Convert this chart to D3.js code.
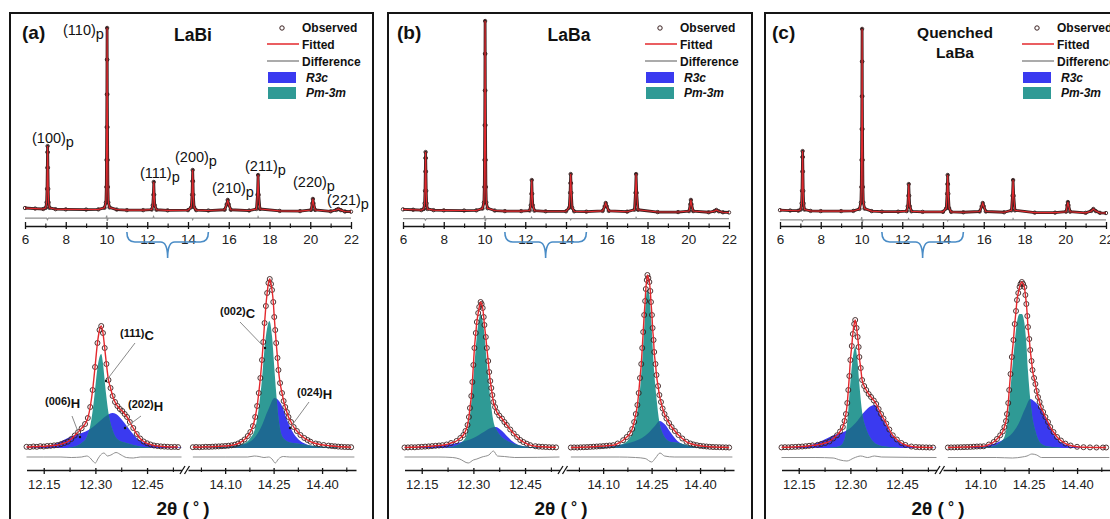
<!DOCTYPE html>
<html><head><meta charset="utf-8">
<script src="https://cdn.jsdelivr.net/npm/d3@7"></script>
<style>body{margin:0;background:#fff;overflow:hidden} text{font-family:Arial,"Liberation Sans",sans-serif}</style>
</head><body><svg id="c" width="1110" height="519"></svg>
<script>
// ---------------- DATA ----------------
const panelLetters = ["(a)", "(b)", "(c)"];
const panelTitles = [["LaBi"], ["LaBa"], ["Quenched", "LaBa"]];
const legendLabels = ["Observed", "Fitted", "Difference", "R3c", "Pm-3m"];
const overviewTicks = [6, 8, 10, 12, 14, 16, 18, 20, 22];
const overviewMinor = [7, 9, 11, 13, 15, 17, 19, 21];
const insetLeftTicks = [12.15, 12.30, 12.45];
const insetLeftMinor = [12.225, 12.375, 12.525];
const insetRightTicks = [14.10, 14.25, 14.40];
const insetRightMinor = [14.025, 14.175, 14.325, 14.475];
const braceRange = [11.0, 15.0];
const hklLabels = ["(100)", "(110)", "(111)", "(200)", "(210)", "(211)", "(220)", "(221)"];
const insetLabels = ["(006)", "(111)", "(202)", "(002)", "(024)"];
const insetLabelSubs = ["H", "C", "H", "C", "H"];

// overview patterns [2theta, intensity]
const overviewA = [[6.0,3.1],[6.5,2.8],[6.9,2.6],[7.02,3.2],[7.06,6],[7.08,13],[7.095,24],[7.105,32],[7.11,35.2],[7.115,32],[7.125,24],[7.14,13],[7.16,6],[7.2,3.2],[7.5,2.5],[8.0,2.4],[9.0,2.3],[9.6,2.4],[9.9,3.2],[9.97,6],[9.99,14],[10.0,28],[10.01,45],[10.018,62],[10.024,80],[10.03,96.4],[10.036,80],[10.042,62],[10.05,45],[10.06,28],[10.07,14],[10.09,6],[10.15,3.4],[10.5,2.3],[11.0,2.0],[11.8,2.0],[12.22,2.3],[12.27,4.5],[12.3,10],[12.32,16.6],[12.34,10],[12.37,4.5],[12.45,2.2],[13.0,1.9],[14.0,2.0],[14.16,3.5],[14.2,10],[14.215,17],[14.23,22.8],[14.245,17],[14.26,10],[14.3,3.5],[14.4,2.0],[15.0,1.8],[15.8,2.2],[15.9,5],[15.95,7.3],[16.0,5],[16.1,2.2],[17.0,1.8],[17.36,2.6],[17.41,10],[17.44,20.2],[17.47,10],[17.53,2.6],[18.5,1.6],[19.5,1.5],[20.04,2.1],[20.1,5.5],[20.13,7.8],[20.16,5.5],[20.24,2.1],[21.0,1.4],[21.28,2.1],[21.38,2.6],[21.5,2.0],[21.7,1.3],[22.0,1.2]];
const overviewB = [[6.0,2.4],[6.5,2.2],[6.9,2.0],[7.02,2.6],[7.06,5.5],[7.08,12],[7.095,22],[7.105,29],[7.11,32.1],[7.115,29],[7.125,22],[7.14,12],[7.16,5.5],[7.2,2.6],[7.5,2.0],[8.0,1.9],[9.0,1.8],[9.6,1.9],[9.9,2.8],[9.97,6],[9.99,14],[10.0,28],[10.01,46],[10.018,64],[10.024,83],[10.03,100],[10.036,83],[10.042,64],[10.05,46],[10.06,28],[10.07,14],[10.09,6],[10.15,3],[10.5,1.8],[11.0,1.5],[11.8,1.5],[12.22,1.8],[12.27,4.5],[12.3,10.5],[12.32,17.6],[12.34,10.5],[12.37,4.5],[12.45,1.7],[13.0,1.4],[14.0,1.4],[14.16,3.3],[14.2,11],[14.215,16],[14.23,20.7],[14.245,16],[14.26,11],[14.3,3.3],[14.4,1.4],[15.0,1.2],[15.8,1.6],[15.9,4],[15.95,5.7],[16.0,4],[16.1,1.6],[17.0,1.2],[17.36,2.2],[17.41,11],[17.44,20.7],[17.47,11],[17.53,2.2],[18.5,1.0],[19.5,1.0],[20.04,1.5],[20.1,5],[20.13,7.3],[20.16,5],[20.24,1.5],[21.0,0.9],[21.28,1.5],[21.38,2.1],[21.5,1.4],[21.7,0.9],[22.0,0.8]];
const overviewC = [[6.0,2.0],[6.5,1.8],[6.9,1.7],[7.02,2.3],[7.06,5.5],[7.08,12],[7.095,22],[7.105,29.5],[7.11,32.6],[7.115,29.5],[7.125,22],[7.14,12],[7.16,5.5],[7.2,2.3],[7.5,1.6],[8.0,1.5],[9.0,1.5],[9.6,1.6],[9.9,2.6],[9.97,6],[9.99,14],[10.0,28],[10.01,44],[10.018,61],[10.024,79],[10.03,95.9],[10.036,79],[10.042,61],[10.05,44],[10.06,28],[10.07,14],[10.09,6],[10.15,2.8],[10.5,1.5],[11.0,1.2],[11.8,1.2],[12.22,1.5],[12.27,4],[12.3,9.5],[12.32,15.5],[12.34,9.5],[12.37,4],[12.45,1.4],[13.0,1.1],[14.0,1.1],[14.16,3],[14.2,10.5],[14.215,15.5],[14.23,20.2],[14.245,15.5],[14.26,10.5],[14.3,3],[14.4,1.1],[15.0,0.9],[15.8,1.3],[15.9,4],[15.95,5.7],[16.0,4],[16.1,1.3],[17.0,0.9],[17.36,1.9],[17.41,9.5],[17.44,17.6],[17.47,9.5],[17.53,1.9],[18.5,0.7],[19.5,0.7],[20.04,1.2],[20.1,4.5],[20.13,6.2],[20.16,4.5],[20.24,1.2],[21.0,0.6],[21.28,1.6],[21.38,2.6],[21.5,1.5],[21.7,0.6],[22.0,0.5]];
const diffOverviewA = [[6,-2.1],[7.06,-2.1],[7.1,-3.0],[7.15,-2.1],[9.98,-2.1],[10.01,-0.8],[10.04,-3.6],[10.08,-2.1],[12.28,-2.1],[12.31,-1.3],[12.34,-2.1],[14.2,-2.1],[14.23,-2.9],[14.26,-2.1],[17.42,-2.1],[17.44,-1.4],[17.47,-2.1],[22,-2.1]];
const diffOverviewB = [[6,-2.4],[7.06,-2.4],[7.1,-3.2],[7.15,-2.4],[9.98,-2.4],[10.01,-1.0],[10.04,-3.8],[10.08,-2.4],[12.28,-2.4],[12.31,-1.7],[12.34,-2.4],[14.2,-2.4],[14.23,-3.0],[14.26,-2.4],[17.42,-2.4],[17.44,-1.8],[17.47,-2.4],[22,-2.4]];
const diffOverviewC = [[6,-3.0],[7.06,-3.0],[7.1,-3.8],[7.15,-3.0],[9.98,-3.0],[10.01,-1.6],[10.04,-4.4],[10.08,-3.0],[12.28,-3.0],[12.31,-2.4],[12.34,-3.0],[14.2,-3.0],[14.23,-3.6],[14.26,-3.0],[17.42,-3.0],[17.44,-2.4],[17.47,-3.0],[22,-3.0]];

// inset (zoomed) data [2theta, intensity]
const obsLeftA = [[12.10,1.2],[12.11,1.0],[12.12,1.5],[12.13,1.2],[12.14,1.8],[12.15,1.5],[12.16,2.0],[12.17,2.2],[12.18,2.6],[12.19,3.0],[12.20,3.8],[12.21,5.0],[12.22,6.3],[12.23,9],[12.24,12.5],[12.25,16],[12.26,19.7],[12.27,24],[12.278,30],[12.285,41],[12.292,58],[12.299,81],[12.306,105],[12.312,118],[12.317,122],[12.322,115],[12.327,100],[12.332,84],[12.338,68],[12.344,60],[12.350,52],[12.357,46],[12.364,42],[12.371,39],[12.378,37],[12.385,34],[12.392,31],[12.40,26],[12.41,20],[12.42,14],[12.43,9.5],[12.44,6.5],[12.45,4.7],[12.46,3.5],[12.47,2.5],[12.48,2.0],[12.49,1.6],[12.50,1.4],[12.51,1.2],[12.52,1.0],[12.53,1.1],[12.54,0.9]];
const tealLeftA = [[12.22,0.3],[12.24,1.5],[12.26,5],[12.275,11],[12.285,22],[12.292,37],[12.299,58],[12.306,80],[12.312,91],[12.317,94],[12.322,85],[12.326,71],[12.331,54],[12.338,35],[12.348,20],[12.357,12],[12.367,8],[12.38,6],[12.395,4.5],[12.41,3],[12.43,1.5],[12.46,0.5]];
const blueLeftA = [[12.10,0.5],[12.15,1.5],[12.19,5],[12.22,10],[12.24,13],[12.26,15],[12.28,18],[12.30,23],[12.32,29],[12.34,34],[12.35,35],[12.36,34],[12.38,27],[12.40,18],[12.42,10],[12.44,5.5],[12.47,2.5],[12.52,1],[12.55,0.5]];
const diffLeftA = [[12.10,-9],[12.15,-9],[12.20,-9],[12.23,-9.5],[12.26,-9],[12.275,-8],[12.285,-10],[12.295,-14],[12.30,-15],[12.307,-11],[12.315,-7],[12.325,-5],[12.335,-8],[12.345,-7],[12.36,-4.5],[12.375,-7],[12.39,-9.5],[12.41,-10],[12.43,-9],[12.47,-9],[12.55,-9]];
const obsRightA = [[14.00,0.8],[14.01,1.0],[14.02,0.8],[14.03,1.0],[14.04,1.2],[14.05,1.1],[14.06,1.3],[14.07,1.5],[14.08,1.6],[14.09,1.8],[14.10,2.0],[14.11,2.3],[14.12,2.7],[14.13,3.3],[14.14,4.5],[14.15,6.2],[14.16,8.5],[14.17,12],[14.178,16],[14.186,22],[14.193,31],[14.199,42],[14.204,55],[14.209,70],[14.214,88],[14.218,106],[14.222,125],[14.226,142],[14.230,155],[14.234,165],[14.238,169],[14.242,164],[14.245,158],[14.249,146],[14.252,131],[14.255,118],[14.258,105],[14.262,90],[14.265,78],[14.270,65],[14.276,55],[14.281,47],[14.286,41],[14.291,36],[14.296,31],[14.304,26],[14.312,21],[14.322,17],[14.333,13],[14.345,10],[14.355,8],[14.364,6.3],[14.38,4.5],[14.39,3.8],[14.405,3.0],[14.42,2.4],[14.43,2.0],[14.44,1.7],[14.45,1.4],[14.46,1.2],[14.47,1.0],[14.48,0.9],[14.49,0.8]];
const tealRightA = [[14.05,0.3],[14.10,1],[14.13,2.5],[14.157,4.5],[14.178,10],[14.193,20],[14.204,40],[14.214,69],[14.222,100],[14.230,120],[14.237,127],[14.245,112],[14.252,81],[14.258,55],[14.265,30],[14.276,12],[14.286,8],[14.296,6],[14.312,5],[14.333,4],[14.364,2.5],[14.40,1.5],[14.45,0.5]];
const blueRightA = [[14.0,0.2],[14.06,0.6],[14.11,1.5],[14.15,3.3],[14.17,5],[14.19,10],[14.21,20],[14.233,38],[14.253,50],[14.273,44],[14.293,27],[14.313,14],[14.333,7],[14.353,3.5],[14.39,1.2],[14.45,0.3]];
const diffRightA = [[14.0,-9],[14.1,-9],[14.17,-9],[14.19,-8],[14.205,-8.5],[14.22,-9.5],[14.235,-9],[14.245,-11],[14.255,-15],[14.265,-11],[14.28,-8.5],[14.30,-9],[14.5,-9]];

const obsLeftB = [[12.10,0.5],[12.11,0.6],[12.12,0.8],[12.13,0.7],[12.14,1.0],[12.15,1.2],[12.16,1.4],[12.17,1.6],[12.18,1.9],[12.19,2.2],[12.20,2.5],[12.21,2.8],[12.222,3.5],[12.235,5],[12.251,7],[12.262,10],[12.271,13],[12.277,17],[12.283,23],[12.287,31],[12.290,40],[12.294,52],[12.297,66],[12.300,83],[12.303,100],[12.307,115],[12.310,126],[12.314,135],[12.317,141],[12.321,146],[12.324,144],[12.327,140],[12.330,131],[12.332,123],[12.336,111],[12.339,100],[12.343,87],[12.346,76],[12.349,67],[12.352,60],[12.355,53],[12.358,46],[12.363,41],[12.368,36],[12.375,32.5],[12.383,29.5],[12.39,26],[12.397,23],[12.407,18.5],[12.417,14.5],[12.427,11],[12.436,8],[12.445,6],[12.455,4.3],[12.465,2.8],[12.48,1.8],[12.49,1.4],[12.50,1.2],[12.51,1.0],[12.52,0.8],[12.53,0.7],[12.54,0.6]];
const tealLeftB = [[12.22,0.3],[12.25,2.5],[12.27,7],[12.28,13],[12.29,32],[12.30,70],[12.31,112],[12.321,134],[12.33,120],[12.339,86],[12.349,50],[12.358,27],[12.369,17],[12.379,12],[12.399,7],[12.419,4],[12.45,1.5],[12.5,0.5]];
const blueLeftB = [[12.10,0.3],[12.15,1],[12.22,3],[12.26,5.5],[12.30,10],[12.33,16],[12.35,20],[12.365,21],[12.38,18],[12.40,11],[12.42,5],[12.45,1.5],[12.50,0.3]];
const diffLeftB = [[12.10,-9],[12.20,-9],[12.24,-9.5],[12.26,-11],[12.285,-15],[12.30,-12],[12.31,-11],[12.325,-9],[12.345,-7],[12.358,-3],[12.37,-8],[12.39,-8.5],[12.42,-9.5],[12.55,-9]];
const obsRightB = [[14.00,0.5],[14.01,0.6],[14.02,0.5],[14.03,0.7],[14.04,0.8],[14.05,0.9],[14.06,1.1],[14.07,1.3],[14.08,1.5],[14.09,1.7],[14.10,1.9],[14.11,2.2],[14.12,2.5],[14.131,2.8],[14.145,4.5],[14.162,7.8],[14.173,11],[14.183,14.5],[14.19,19],[14.196,26],[14.201,34],[14.206,43],[14.210,55],[14.214,70],[14.218,84],[14.221,100],[14.224,116],[14.227,133],[14.230,147],[14.232,159],[14.235,168],[14.237,173],[14.240,170],[14.243,166],[14.246,157],[14.248,146],[14.251,133],[14.253,120],[14.256,108],[14.258,96],[14.262,84],[14.265,73],[14.270,62],[14.274,53],[14.279,46],[14.284,39.5],[14.29,34],[14.296,29.5],[14.304,25],[14.312,21],[14.322,17],[14.333,13],[14.345,9.5],[14.358,6.2],[14.37,4.5],[14.38,3.5],[14.39,2.8],[14.40,2.2],[14.41,1.8],[14.42,1.5],[14.43,1.2],[14.44,1.0],[14.45,0.9],[14.46,0.8],[14.47,0.7],[14.48,0.6],[14.49,0.5]];
const tealRightB = [[14.05,0.3],[14.10,0.8],[14.13,1.5],[14.16,4],[14.18,9],[14.195,19],[14.205,34],[14.215,62],[14.222,92],[14.228,125],[14.236,158],[14.243,153],[14.248,132],[14.258,76],[14.265,50],[14.274,26],[14.285,14],[14.296,8.5],[14.31,6],[14.335,5],[14.36,3],[14.40,1],[14.45,0.3]];
const blueRightB = [[14.05,0.3],[14.10,1],[14.15,3],[14.19,6],[14.22,10],[14.24,15],[14.26,22],[14.275,27],[14.29,24],[14.31,15],[14.33,7],[14.36,2.5],[14.40,0.8],[14.45,0.2]];
const diffRightB = [[14.0,-9],[14.15,-9],[14.2,-9.5],[14.23,-10.5],[14.25,-14],[14.262,-10],[14.276,-5],[14.29,-8],[14.32,-9],[14.5,-9]];

const obsLeftC = [[12.10,0.6],[12.11,0.8],[12.12,0.7],[12.13,1.0],[12.14,1.1],[12.15,1.3],[12.16,1.5],[12.17,1.8],[12.18,2.2],[12.19,2.6],[12.205,3.2],[12.215,4],[12.227,5],[12.239,6.5],[12.25,9.5],[12.261,12.7],[12.27,16.5],[12.278,21],[12.283,27],[12.287,34],[12.291,45],[12.294,58],[12.297,72],[12.300,88],[12.304,102],[12.307,114],[12.311,124],[12.314,128],[12.318,120],[12.321,111],[12.324,101],[12.326,91],[12.330,80],[12.334,68],[12.340,62],[12.346,58],[12.353,54],[12.360,51],[12.368,47.5],[12.375,44],[12.382,39],[12.389,34],[12.396,29.5],[12.404,24.5],[12.413,18.5],[12.423,12.7],[12.435,8.5],[12.448,5],[12.46,3],[12.477,1.5],[12.49,1.0],[12.50,0.8],[12.51,0.7],[12.52,0.6],[12.53,0.5],[12.54,0.5]];
const tealLeftC = [[12.24,0.3],[12.27,2],[12.28,6],[12.287,15],[12.294,38],[12.30,66],[12.307,90],[12.314,101],[12.321,86],[12.326,64],[12.334,36],[12.346,19],[12.36,9],[12.375,4],[12.40,1.5],[12.44,0.3]];
const blueLeftC = [[12.12,0.5],[12.17,2],[12.21,6],[12.24,11],[12.26,14],[12.28,16],[12.30,20],[12.32,27],[12.34,36],[12.36,42],[12.37,43],[12.39,31],[12.405,22],[12.42,13],[12.445,5],[12.47,2],[12.50,0.7],[12.55,0.3]];
const diffLeftC = [[12.10,-9.5],[12.20,-9.5],[12.25,-10],[12.27,-12],[12.29,-13],[12.31,-10],[12.33,-8],[12.35,-9.5],[12.37,-8],[12.39,-9],[12.55,-9.5]];
const obsRightC = [[14.00,0.5],[14.01,0.6],[14.02,0.6],[14.03,0.7],[14.04,0.8],[14.05,0.9],[14.06,1.0],[14.07,1.1],[14.08,1.3],[14.09,1.5],[14.10,1.6],[14.111,1.7],[14.127,3.5],[14.142,6],[14.152,9],[14.162,12.7],[14.17,16.5],[14.175,21],[14.18,27],[14.183,34],[14.187,45],[14.19,58],[14.194,74],[14.198,91],[14.203,108],[14.207,124],[14.211,137],[14.214,148],[14.218,155],[14.222,161],[14.225,164],[14.229,166],[14.233,164],[14.237,161],[14.240,153],[14.243,144],[14.246,132],[14.248,121],[14.252,109],[14.255,98],[14.259,87],[14.262,78],[14.267,70],[14.271,64],[14.275,57],[14.279,51],[14.284,46],[14.288,41],[14.295,36],[14.302,31],[14.31,26],[14.317,21],[14.327,16],[14.338,11],[14.35,7.5],[14.364,4.4],[14.38,2.5],[14.40,1.2],[14.42,0.8],[14.44,0.6],[14.46,0.5],[14.48,0.5],[14.49,0.5]];
const tealRightC = [[14.10,0.3],[14.142,2],[14.162,5.5],[14.175,11],[14.183,23],[14.19,45],[14.198,75],[14.207,105],[14.214,126],[14.222,134],[14.229,134],[14.237,125],[14.243,104],[14.248,77],[14.255,49],[14.262,30],[14.271,17],[14.279,9],[14.29,4],[14.31,1.5],[14.35,0.3]];
const blueRightC = [[14.05,0.3],[14.10,1.5],[14.14,4],[14.17,8],[14.20,15],[14.22,25],[14.24,40],[14.255,49],[14.27,46],[14.286,40],[14.307,27],[14.327,14],[14.345,7],[14.36,4],[14.39,1],[14.45,0.2]];
const diffRightC = [[14.0,-9.5],[14.15,-9.5],[14.2,-10],[14.23,-9],[14.245,-8],[14.26,-6],[14.275,-7],[14.29,-9.5],[14.5,-9.5]];

// ---------------- DRAWING ----------------
const F = 'Arial, "Liberation Sans", sans-serif';
const COL = {red:"#e3282d", obs:"#3a2020", diff:"#8f8f8f", blue:"#3a3af0", teal:"#2f9a95", overlap:"#1e6a92", brace:"#4a8cc6", frame:"#151515"};
const svg = d3.select("#c");

const xO = d3.scaleLinear().domain([6, 22]).range([15, 341]);
const yO = d3.scaleLinear().domain([0, 100]).range([214, 21]);
const xL = d3.scaleLinear().domain([12.10, 12.55]).range([16.5, 171.5]);
const xR = d3.scaleLinear().domain([13.985, 14.505]).range([178, 346]);
const yI = d3.scaleLinear().domain([0, 180]).range([448, 268]);

const panels = [
  {left:10, width:363, letterX:12, titleX:183, titleY:[41],
   overview:overviewA, diff:diffOverviewA,
   L:{obs:obsLeftA, teal:tealLeftA, blue:blueLeftA, diff:diffLeftA},
   R:{obs:obsRightA, teal:tealRightA, blue:blueRightA, diff:diffRightA}},
  {left:388, width:364, letterX:9, titleX:181, titleY:[41],
   overview:overviewB, diff:diffOverviewB,
   L:{obs:obsLeftB, teal:tealLeftB, blue:blueLeftB, diff:diffLeftB},
   R:{obs:obsRightB, teal:tealRightB, blue:blueRightB, diff:diffRightB}},
  {left:765, width:364, letterX:7, titleX:190, titleY:[38, 58],
   overview:overviewC, diff:diffOverviewC,
   L:{obs:obsLeftC, teal:tealLeftC, blue:blueLeftC, diff:diffLeftC},
   R:{obs:obsRightC, teal:tealRightC, blue:blueRightC, diff:diffRightC}}
];

function styleAxis(ax, inner, fs){
  ax.select(".domain").attr("stroke", COL.frame).attr("stroke-width", 1.5);
  ax.selectAll(".tick line").attr("stroke", COL.frame).attr("stroke-width", 1.3).attr("y1", -inner);
  ax.selectAll(".tick text").attr("font-size", fs).attr("font-family", F).attr("fill", "#222");
}

function drawPeak(g, x, d, key){
  const area = d3.area().x(p => x(p[0])).y0(yI(0)).y1(p => yI(p[1])).curve(d3.curveMonotoneX);
  const line = d3.line().x(p => x(p[0])).y(p => yI(p[1])).curve(d3.curveMonotoneX);
  g.append("path").attr("d", area(d.blue)).attr("fill", COL.blue);
  g.append("path").attr("d", area(d.teal)).attr("fill", COL.teal);
  const cid = "clip" + key;
  g.append("clipPath").attr("id", cid).append("path").attr("d", area(d.blue));
  g.append("path").attr("d", area(d.teal)).attr("fill", COL.overlap).attr("clip-path", `url(#${cid})`);
  g.append("path").attr("d", line(d.diff)).attr("fill", "none").attr("stroke", COL.diff).attr("stroke-width", 1);
  g.append("g").selectAll("circle").data(d.obs).join("circle")
    .attr("cx", p => x(p[0])).attr("cy", p => yI(p[1])).attr("r", 2.5)
    .attr("fill", "none").attr("stroke", COL.obs).attr("stroke-width", 0.9);
  g.append("path").attr("d", line(d.obs)).attr("fill", "none").attr("stroke", COL.red).attr("stroke-width", 1.4);
}

panels.forEach((p, i) => {
  const g = svg.append("g").attr("transform", `translate(${p.left},0)`);

  // ---- overview pattern ----
  const lineO = d3.line().x(d => xO(d[0])).y(d => yO(d[1]));
  g.append("path").attr("d", lineO(p.diff)).attr("fill", "none").attr("stroke", COL.diff).attr("stroke-width", 1.2);
  g.append("path").attr("d", lineO(p.overview)).attr("fill", "none").attr("stroke", COL.obs)
    .attr("stroke-width", 2.8).attr("stroke-linejoin", "round");
  g.append("g").selectAll("circle").data(p.overview).join("circle")
    .attr("cx", d => xO(d[0])).attr("cy", d => yO(d[1])).attr("r", 1.7)
    .attr("fill", "none").attr("stroke", COL.obs).attr("stroke-width", 0.9);
  g.append("path").attr("d", lineO(p.overview)).attr("fill", "none").attr("stroke", COL.red).attr("stroke-width", 1.1);

  const axO = g.append("g").attr("transform", "translate(0,226)")
    .call(d3.axisBottom(xO).tickValues(overviewTicks).tickSizeInner(3).tickSizeOuter(0).tickPadding(5).tickFormat(d3.format("d")));
  styleAxis(axO, 4, 13.5);
  const axOm = g.append("g").attr("transform", "translate(0,226)")
    .call(d3.axisBottom(xO).tickValues(overviewMinor).tickSize(2).tickFormat(""));
  axOm.select(".domain").remove();
  axOm.selectAll(".tick line").attr("stroke", COL.frame).attr("stroke-width", 1.1).attr("y1", -2.5);

  // brace
  const b1 = xO(braceRange[0]), b2 = xO(braceRange[1]), bc = (b1 + b2) / 2;
  g.append("path")
    .attr("d", `M${b1},232 Q${b1},242 ${b1+8},242 L${bc-7},242 Q${bc},242 ${bc},258 Q${bc},242 ${bc+7},242 L${b2-8},242 Q${b2},242 ${b2},232`)
    .attr("fill", "none").attr("stroke", COL.brace).attr("stroke-width", 1.6);

  // ---- inset ----
  drawPeak(g, xL, p.L, "L" + i);
  drawPeak(g, xR, p.R, "R" + i);

  const axL = g.append("g").attr("transform", "translate(0,470)")
    .call(d3.axisBottom(xL).tickValues(insetLeftTicks).tickSizeInner(4).tickSizeOuter(0).tickPadding(6).tickFormat(d3.format(".2f")));
  styleAxis(axL, 2, 13);
  const axR = g.append("g").attr("transform", "translate(0,470)")
    .call(d3.axisBottom(xR).tickValues(insetRightTicks).tickSizeInner(4).tickSizeOuter(0).tickPadding(6).tickFormat(d3.format(".2f")));
  styleAxis(axR, 2, 13);
  [[xL, insetLeftMinor], [xR, insetRightMinor]].forEach(([sc, vals]) => {
    const a = g.append("g").attr("transform", "translate(0,470)")
      .call(d3.axisBottom(sc).tickValues(vals).tickSize(2).tickFormat(""));
    a.select(".domain").remove();
    a.selectAll(".tick line").attr("stroke", COL.frame).attr("stroke-width", 1.1).attr("y1", -2.5);
  });
  // axis break marks
  g.append("path").attr("d", "M170,474 L175,466 M174.5,474 L179.5,466")
    .attr("stroke", COL.frame).attr("stroke-width", 1.3).attr("fill", "none");
  // axis title
  const at = g.append("text").attr("x", 173).attr("y", 515).attr("text-anchor", "middle")
    .attr("font-size", 19).attr("font-weight", "bold").attr("fill", "#111");
  at.append("tspan").text("2θ (");
  at.append("tspan").attr("font-size", 15).attr("dy", -3).text(" ° ");
  at.append("tspan").attr("dy", 3).text(")");

  // ---- texts ----
  g.append("text").attr("x", p.letterX).attr("y", 39).attr("font-size", 19).attr("font-weight", "bold")
    .attr("fill", "#111").text(panelLetters[i]);
  panelTitles[i].forEach((t, k) => {
    g.append("text").attr("x", p.titleX).attr("y", p.titleY[k]).attr("text-anchor", "middle")
      .attr("font-size", i === 2 ? 15.5 : 17.5).attr("font-weight", "bold").attr("fill", "#111").text(t);
  });

  // legend
  const lg = g.append("g").attr("font-size", 12).attr("font-weight", "bold").attr("fill", "#111");
  lg.append("circle").attr("cx", 272).attr("cy", 28).attr("r", 2.2).attr("fill", "none").attr("stroke", COL.obs).attr("stroke-width", 1);
  lg.append("line").attr("x1", 257).attr("x2", 289).attr("y1", 44).attr("y2", 44).attr("stroke", COL.red).attr("stroke-width", 1.5);
  lg.append("line").attr("x1", 257).attr("x2", 289).attr("y1", 61).attr("y2", 61).attr("stroke", COL.diff).attr("stroke-width", 1.5);
  lg.append("rect").attr("x", 258).attr("y", 72).attr("width", 28).attr("height", 11).attr("fill", COL.blue);
  lg.append("rect").attr("x", 258).attr("y", 87).attr("width", 28).attr("height", 12).attr("fill", COL.teal);
  const ly = [32, 49, 66, 82, 97];
  const lx = [292, 292, 292, 296, 296];
  legendLabels.forEach((t, k) => {
    lg.append("text").attr("x", lx[k]).attr("y", ly[k]).attr("font-style", k >= 3 ? "italic" : "normal").text(t);
  });

  // annotations for panel (a)
  if (i === 0) {
    const hklPos = [[22,143],[53,35],[130,178],[165,162],[202,193],[235,171],[283,187],[317,205]];
    hklLabels.forEach((t, k) => {
      const tx = g.append("text").attr("x", hklPos[k][0]).attr("y", hklPos[k][1])
        .attr("font-size", 14.5).attr("fill", "#111");
      tx.append("tspan").text(t);
      tx.append("tspan").attr("dy", 4).attr("font-size", 14.5).text("p");
    });
    const annPos = [[35,405],[110,337],[118,408],[210,315],[287,396]];
    const leaders = [[62,416,70,437],[125,343,96,381],[131,416,115,428],[230,322,255,348],[299,402,280,428]];
    leaders.forEach(l => {
      g.append("line").attr("x1", l[0]).attr("y1", l[1]).attr("x2", l[2]).attr("y2", l[3])
        .attr("stroke", "#8a8a8a").attr("stroke-width", 1);
      g.append("circle").attr("cx", l[2]).attr("cy", l[3]).attr("r", 1.2).attr("fill", "#111");
    });
    insetLabels.forEach((t, k) => {
      const tx = g.append("text").attr("x", annPos[k][0]).attr("y", annPos[k][1])
        .attr("font-size", 11).attr("font-weight", "bold").attr("fill", "#111");
      tx.append("tspan").text(t);
      tx.append("tspan").attr("dy", 3).attr("font-size", 13).text(insetLabelSubs[k]);
    });
  }

  // frame
  g.append("rect").attr("x", 0).attr("y", 13).attr("width", p.width).attr("height", 540)
    .attr("fill", "none").attr("stroke", COL.frame).attr("stroke-width", 2);
});
</script></body></html>
